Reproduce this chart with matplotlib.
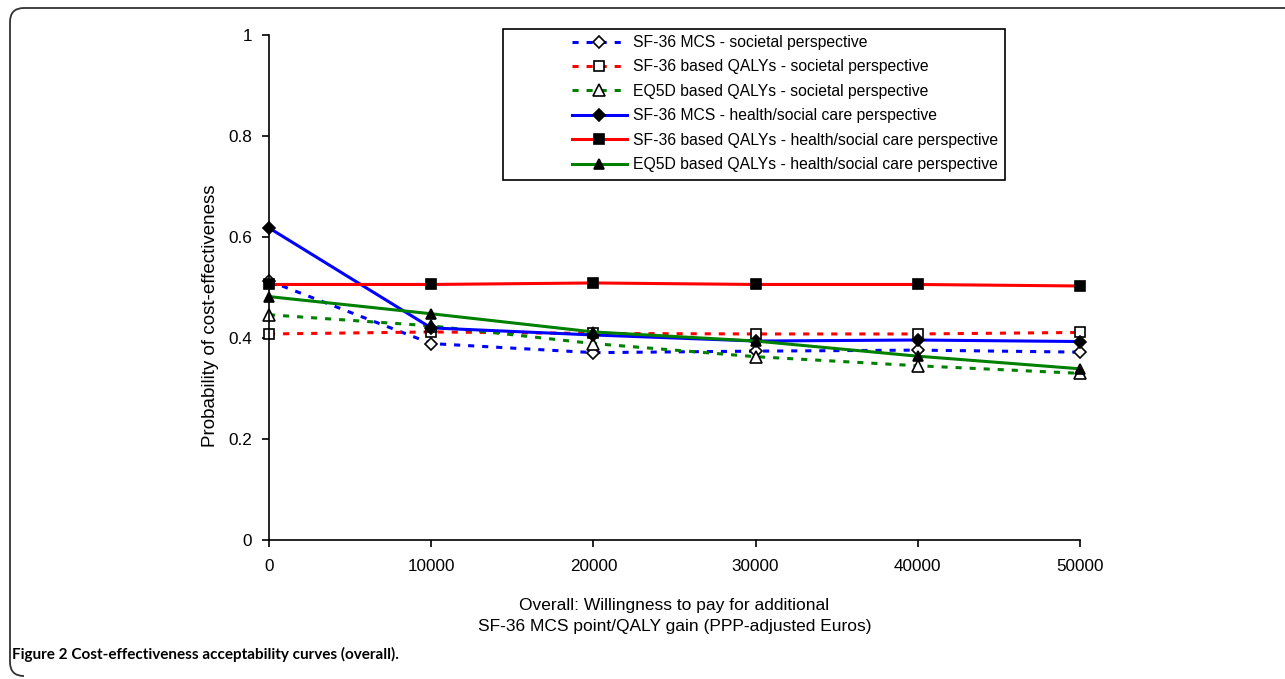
import matplotlib
matplotlib.use("Agg")
import matplotlib.pyplot as plt
from matplotlib.path import Path
from matplotlib.patches import PathPatch, Rectangle

plt.rcParams['font.family'] = ['Liberation Sans', 'DejaVu Sans']

wtp = [0, 10000, 20000, 30000, 40000, 50000]
mcs_soc = [0.513, 0.389, 0.371, 0.374, 0.376, 0.372]
sf36_soc = [0.408, 0.412, 0.409, 0.408, 0.408, 0.411]
eq5d_soc = [0.446, 0.424, 0.389, 0.363, 0.345, 0.330]
mcs_hsc = [0.618, 0.420, 0.406, 0.394, 0.396, 0.393]
sf36_hsc = [0.506, 0.506, 0.509, 0.506, 0.506, 0.503]
eq5d_hsc = [0.482, 0.448, 0.412, 0.394, 0.364, 0.339]

labels = [
    "SF-36 MCS - societal perspective",
    "SF-36 based QALYs - societal perspective",
    "EQ5D based QALYs - societal perspective",
    "SF-36 MCS - health/social care perspective",
    "SF-36 based QALYs - health/social care perspective",
    "EQ5D based QALYs - health/social care perspective",
]
x_ticks = [0, 10000, 20000, 30000, 40000, 50000]
y_ticks = [0, 0.2, 0.4, 0.6, 0.8, 1]
y_tick_labels = ["0", "0.2", "0.4", "0.6", "0.8", "1"]
xlabel = "Overall: Willingness to pay for additional\nSF-36 MCS point/QALY gain (PPP-adjusted Euros)"
ylabel = "Probability of cost-effectiveness"
caption_bold = "Figure 2 Cost-effectiveness acceptability curves (overall)."

W, H = 1285, 679
fig = plt.figure(figsize=(W / 100, H / 100), dpi=100)
ax = fig.add_axes([269 / W, 1 - 540 / H, (1080 - 269) / W, (540 - 35) / H])

dash = (0, (2.0, 2.6))
series = [
    (mcs_soc, 'blue', dash, 'D', 'white', 6),
    (sf36_soc, 'red', dash, 's', 'white', 7),
    (eq5d_soc, 'green', dash, '^', 'white', 8),
    (mcs_hsc, 'blue', '-', 'D', 'black', 6),
    (sf36_hsc, 'red', '-', 's', 'black', 7),
    (eq5d_hsc, 'green', '-', '^', 'black', 7),
]
handles = []
for (vals, col, ls, mk, mfc, ms), lab in zip(series, labels):
    h, = ax.plot(wtp, vals, color=col, linestyle=ls, linewidth=2.2,
                 marker=mk, markerfacecolor=mfc, markeredgecolor='black',
                 markeredgewidth=1.2, markersize=ms, label=lab, clip_on=False)
    handles.append(h)

ax.set_xlim(0, 50000)
ax.set_ylim(0, 1)
ax.set_xticks(x_ticks)
ax.set_xticklabels([str(v) for v in x_ticks])
ax.set_yticks(y_ticks)
ax.set_yticklabels(y_tick_labels)
ax.spines['top'].set_visible(False)
ax.spines['right'].set_visible(False)
for s in ('left', 'bottom'):
    ax.spines[s].set_linewidth(1.2)
ax.tick_params(direction='out', length=5, width=1.2, labelsize=12.3, pad=7)
ax.tick_params(axis='x', pad=9)
ax.set_xlabel(xlabel, fontsize=12.5, labelpad=17, linespacing=1.47)
ax.set_ylabel(ylabel, fontsize=13.5, labelpad=6.5, y=0.4436)

# legend frame and legend
fig.patches.append(Rectangle((503 / W, 1 - 180 / H), (1005 - 503) / W, (180 - 29) / H,
                             transform=fig.transFigure, fill=False,
                             edgecolor='black', linewidth=1.2))
fig.legend(handles=handles, loc='upper left', bbox_to_anchor=(572 / W, 1 - 35 / H),
           frameon=False, fontsize=11.3, handlelength=3.5, handletextpad=0.38,
           labelspacing=0.6, borderpad=0, borderaxespad=0, numpoints=1)

# caption
fig.text(12 / W, 1 - 654 / H, caption_bold, fontsize=11, fontweight='bold',
         family=['Lato', 'DejaVu Sans'], va='center', ha='left')

# outer rounded border (top and left sides)
r = 14
verts = [(W + 5, 8), (10 + r, 8), (10, 8), (10, 8 + r), (10, H - 3 - r), (10, H - 3), (10 + r, H - 3)]
codes = [Path.MOVETO, Path.LINETO, Path.CURVE3, Path.CURVE3, Path.LINETO, Path.CURVE3, Path.CURVE3]
verts_fig = [(vx / W, 1 - vy / H) for vx, vy in verts]
fig.patches.append(PathPatch(Path(verts_fig, codes), transform=fig.transFigure,
                             fill=False, edgecolor='#333333', linewidth=1.3))

fig.savefig('out.png', dpi=100)
